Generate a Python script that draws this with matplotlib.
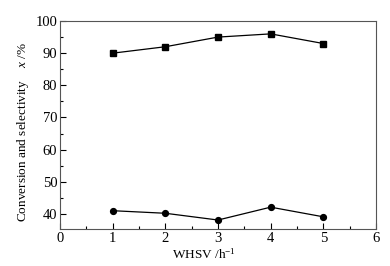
import matplotlib.pyplot as plt
from matplotlib.ticker import MultipleLocator

plt.rcParams['font.family'] = ['Liberation Serif', 'DejaVu Serif']
plt.rcParams['mathtext.fontset'] = 'custom'
plt.rcParams['mathtext.rm'] = 'Liberation Serif'
plt.rcParams['mathtext.it'] = 'Liberation Serif:italic'

# data
whsv = [1, 2, 3, 4, 5]
conversion = [90.0, 92.0, 95.0, 96.0, 93.0]
selectivity = [41.0, 40.2, 38.1, 42.1, 39.1]

fig = plt.figure(figsize=(3.9, 2.66), dpi=100)
ax = fig.add_axes([0.154, 0.139, 0.81, 0.782])

ax.plot(whsv, conversion, color='black', lw=0.9, marker='s', ms=4.2)
ax.plot(whsv, selectivity, color='black', lw=0.9, marker='o', ms=4.2)

ax.set_xlim(0, 6)
ax.set_ylim(35.3, 100)
ax.xaxis.set_major_locator(MultipleLocator(1))
ax.xaxis.set_minor_locator(MultipleLocator(0.5))
ax.yaxis.set_major_locator(MultipleLocator(10))
ax.yaxis.set_minor_locator(MultipleLocator(5))
ax.tick_params(which='both', direction='in', top=False, right=False, labelsize=10.5, pad=2)
ax.tick_params(which='major', length=4, width=0.8)
ax.tick_params(which='minor', length=2.5, width=0.8)
for s in ax.spines.values():
    s.set_color('#555555')
    s.set_linewidth(0.8)

ax.set_xlabel('WHSV /h$^{-1}$', fontsize=9.5)
ax.set_ylabel('Conversion and selectivity    $x$ /%', fontsize=9.5)
ax.xaxis.set_label_coords(0.456, -0.085)
ax.yaxis.set_label_coords(-0.092, 0.465)

fig.savefig('out.png', dpi=100)
